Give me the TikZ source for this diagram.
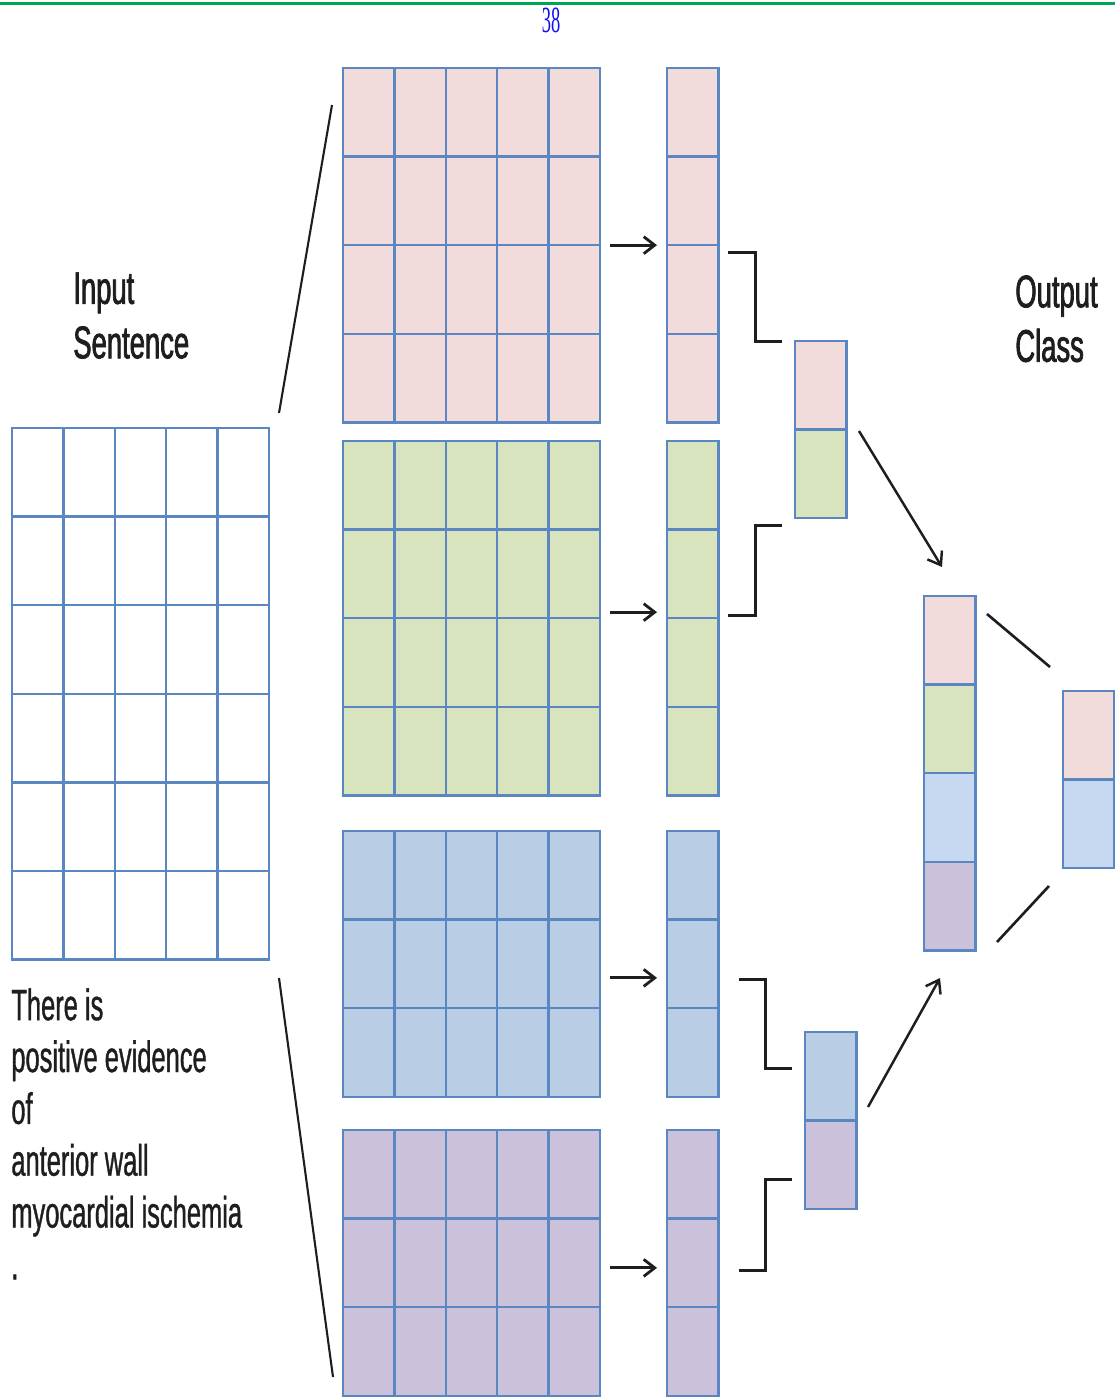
\documentclass[tikz,border=0pt]{standalone}
\usepackage{fontspec}
\setmainfont{Liberation Sans}
\newfontfamily\narrowsans[FakeStretch=0.58, FakeBold=0.8]{Liberation Sans}
\newfontfamily\narrowhead[FakeStretch=0.6, FakeBold=1.6]{Liberation Sans}
\newfontfamily\narrowserif[FakeStretch=0.5]{Liberation Serif}
\usepackage{tikz}
\usetikzlibrary{arrows.meta}
\definecolor{ink}{HTML}{1E1E1E}
\definecolor{gridline}{HTML}{5A86C2}
\definecolor{pinkfill}{HTML}{F2DCDB}
\definecolor{greenfill}{HTML}{D7E4BD}
\definecolor{bluefill}{HTML}{B9CDE5}
\definecolor{lightblue}{HTML}{C6D9F1}
\definecolor{purplefill}{HTML}{CCC1DA}
\definecolor{rulegreen}{HTML}{00A651}
\definecolor{pageblue}{HTML}{1010F0}
\tikzset{
  gridframe/.style={draw=gridline, line width=1.3pt, inner sep=0pt, outer sep=0pt, anchor=north west},
  cellline/.style={draw=gridline, line width=1.3pt},
  maparrow/.style={-{Straight Barb[length=0.22cm,width=0.34cm]}, line width=1.6pt, draw=ink,
    shorten <=0.2cm, shorten >=0.2cm},
  poolarrow/.style={-{Straight Barb[length=0.24cm,width=0.34cm]}, line width=1.4pt, draw=ink},
  fanline/.style={line width=1.2pt, draw=ink},
  bracket/.style={line width=1.7pt, draw=ink},
  headlabel/.style={font=\narrowhead\fontsize{26}{31}\selectfont, text=ink, align=left,
    anchor=north west, inner sep=0pt},
  sentlabel/.style={font=\narrowsans\fontsize{25}{29.5}\selectfont, text=ink, align=left,
    anchor=north west, inner sep=0pt},
  pagenum/.style={font=\narrowserif\fontsize{21}{24}\selectfont, text=pageblue, inner sep=0pt}
}
% one-colour grid of cols x rows cells: name, left, top, cols, rows, fill
\newcommand{\featgrid}[6]{%
  \node[gridframe, fill=#6, minimum width={#4*1.028cm}, minimum height={#5*1.772cm}] (#1) at (#2,#3) {};
  \foreach \cx in {1,...,#4}{
    \foreach \ry in {1,...,#5}{
      \draw[cellline] (#2+\cx*51.4-51.4, #3+\ry*88.6-88.6) rectangle ++(51.4,88.6);
    }
  }%
}
% single column with one fill per cell: name, left, top, rows, fills
\newcommand{\featstack}[5]{%
  \node[gridframe, minimum width=1.028cm, minimum height={#4*1.772cm}] (#1) at (#2,#3) {};
  \foreach \fc [count=\ry from 0] in {#5}{
    \draw[cellline, fill=\fc] (#2, #3+\ry*88.6) rectangle ++(51.4,88.6);
  }%
}

\begin{document}
\begin{tikzpicture}[x=0.02cm, y=-0.02cm]
  \useasboundingbox (0,0) rectangle (1115,1397);
  \draw[rulegreen, line width=0.06cm] (0,3) -- (1115,3);
  \node[pagenum] (pageno) at (551,20) {38};

  % input sentence matrix
  \featgrid{inputmap}{12}{428}{5}{6}{white}
  \node[headlabel] (inputlbl) at (73,272) {Input\\Sentence};
  \node[sentlabel] (sentence) at (11,988)
    {There is\\positive evidence\\of\\anterior wall\\myocardial ischemia\\.};

  % feature maps and pooled vectors
  \featgrid{pinkmap}{343}{68}{5}{4}{pinkfill}
  \featgrid{greenmap}{343}{441}{5}{4}{greenfill}
  \featgrid{bluemap}{343}{831}{5}{3}{bluefill}
  \featgrid{purplemap}{343}{1130}{5}{3}{purplefill}

  \featgrid{pinkvec}{667}{68}{1}{4}{pinkfill}
  \featgrid{greenvec}{667}{441}{1}{4}{greenfill}
  \featgrid{bluevec}{667}{831}{1}{3}{bluefill}
  \featgrid{purplevec}{667}{1130}{1}{3}{purplefill}

  \featstack{poolA}{795}{341}{2}{pinkfill,greenfill}
  \featstack{poolB}{805}{1032}{2}{bluefill,purplefill}
  \featstack{concat}{924}{596}{4}{pinkfill,greenfill,lightblue,purplefill}
  \featstack{outvec}{1063}{691}{2}{pinkfill,lightblue}
  \node[headlabel] (outputlbl) at (1015,275) {Output\\Class};

  % fan from the input matrix
  \coordinate (fanA1) at (279,413);
  \coordinate (fanA2) at (332,105);
  \coordinate (fanB1) at (279,978);
  \coordinate (fanB2) at (333,1377);
  \draw[fanline] (fanA1) -- (fanA2);
  \draw[fanline] (fanB1) -- (fanB2);

  \draw[maparrow] (pinkmap.east) -- (pinkvec.west);
  \draw[maparrow] ([yshift=0.12cm]greenmap.east) -- ([yshift=0.12cm]greenvec.west);
  \draw[maparrow] ([yshift=-0.28cm]bluemap.east) -- ([yshift=-0.28cm]bluevec.west);
  \draw[maparrow] ([yshift=-0.1cm]purplemap.east) -- ([yshift=-0.1cm]purplevec.west);

  % max-pool brackets
  \coordinate (pinkout) at (728,252);
  \coordinate (pinkin) at (782,341);
  \coordinate (greenout) at (728,615);
  \coordinate (greenin) at (782,525);
  \coordinate (blueout) at (739,979);
  \coordinate (bluein) at (792,1068);
  \coordinate (purpleout) at (739,1270);
  \coordinate (purplein) at (792,1179);
  \draw[bracket] (pinkout) -- ++(27,0) |- (pinkin);
  \draw[bracket] (greenout) -- ++(27,0) |- (greenin);
  \draw[bracket] (blueout) -- ++(26,0) |- (bluein);
  \draw[bracket] (purpleout) -- ++(26,0) |- (purplein);

  % merge into output
  \coordinate (poolAout) at (859,431);
  \coordinate (concatinA) at (942,567);
  \coordinate (poolBout) at (868,1107);
  \coordinate (concatinB) at (940,978);
  \draw[poolarrow] (poolAout) -- (concatinA);
  \draw[poolarrow] (poolBout) -- (concatinB);

  \coordinate (catA) at (987,614);
  \coordinate (outA) at (1050,667);
  \coordinate (catB) at (997,942);
  \coordinate (outB) at (1049,886);
  \draw[fanline, line width=1.5pt] (catA) -- (outA);
  \draw[fanline, line width=1.5pt] (catB) -- (outB);
\end{tikzpicture}
\end{document}
